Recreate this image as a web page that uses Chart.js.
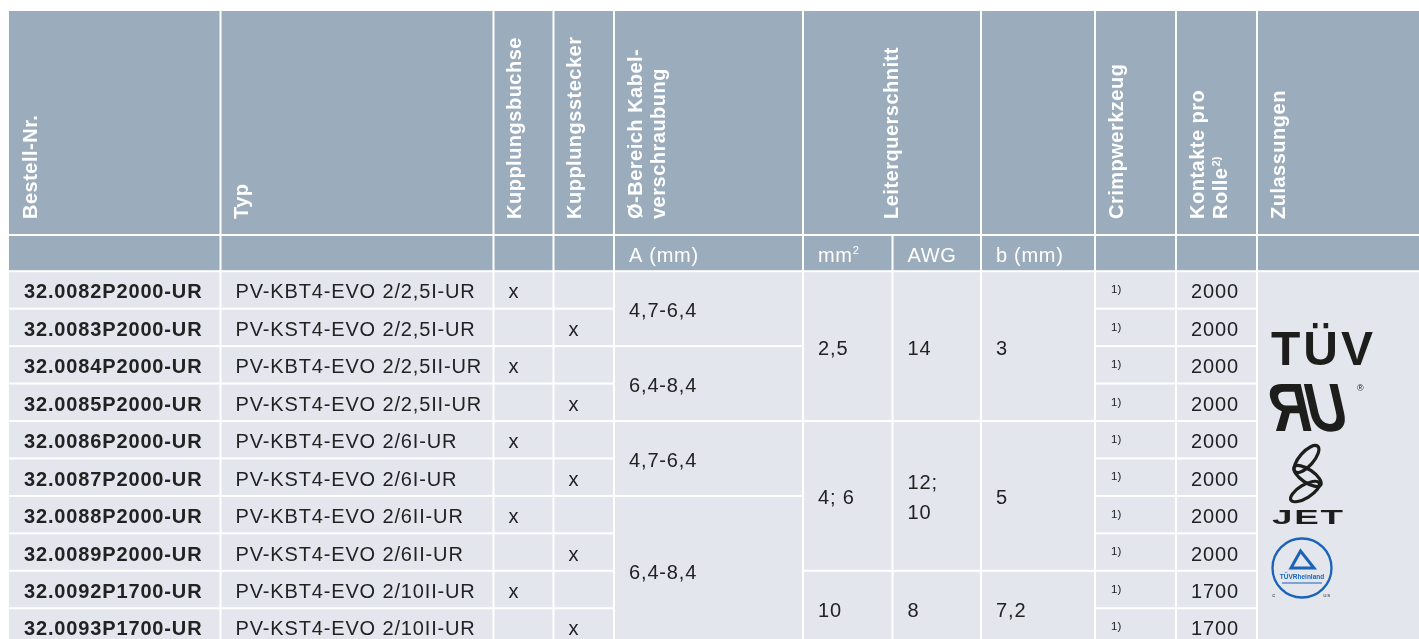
<!DOCTYPE html>
<html><head><meta charset="utf-8">
<script src="https://cdn.jsdelivr.net/npm/chart.js@4"></script>
<style>html,body{margin:0;padding:0;background:#fff;overflow:hidden}canvas{display:block}</style>
</head><body>
<canvas id="c" width="1419" height="639"></canvas>
<script>
// ---------- DATA ----------
const headerLabels = ['Bestell-Nr.', 'Typ', 'Kupplungsbuchse', 'Kupplungsstecker', 'Ø-Bereich Kabel-|verschraubung', 'Leiterquerschnitt', '', 'Crimpwerkzeug', 'Kontakte pro|Rolle', 'Zulassungen'];
const headerNotes = ['', '', '', '', '', '', '', '', '2)', ''];
const subHeaderLabels = ['', '', '', '', 'A (mm)', 'mm', 'AWG', 'b (mm)', '', '', ''];
const subHeaderNotes = ['', '', '', '', '', '2', '', '', '', '', ''];
const orderNumbers = ['32.0082P2000-UR', '32.0083P2000-UR', '32.0084P2000-UR', '32.0085P2000-UR', '32.0086P2000-UR', '32.0087P2000-UR', '32.0088P2000-UR', '32.0089P2000-UR', '32.0092P1700-UR', '32.0093P1700-UR'];
const typeNames = ['PV-KBT4-EVO 2/2,5I-UR', 'PV-KST4-EVO 2/2,5I-UR', 'PV-KBT4-EVO 2/2,5II-UR', 'PV-KST4-EVO 2/2,5II-UR', 'PV-KBT4-EVO 2/6I-UR', 'PV-KST4-EVO 2/6I-UR', 'PV-KBT4-EVO 2/6II-UR', 'PV-KST4-EVO 2/6II-UR', 'PV-KBT4-EVO 2/10II-UR', 'PV-KST4-EVO 2/10II-UR'];
const socketMarks = ['x', '', 'x', '', 'x', '', 'x', '', 'x', ''];
const plugMarks = ['', 'x', '', 'x', '', 'x', '', 'x', '', 'x'];
const cableRanges = ['4,7-6,4', '6,4-8,4', '4,7-6,4', '6,4-8,4'];
const cableRangeRows = [2, 2, 2, 4];
const crossSectionMm2 = ['2,5', '4; 6', '10'];
const crossSectionAwg = ['14', '12;|10', '8'];
const stripLengthB = ['3', '5', '7,2'];
const crossSectionRows = [4, 4, 2];
const crimpToolNotes = ['1)', '1)', '1)', '1)', '1)', '1)', '1)', '1)', '1)', '1)'];
const contactsPerRoll = [2000, 2000, 2000, 2000, 2000, 2000, 2000, 2000, 1700, 1700];
const approvals = ['TÜV', 'ЯU', 'JET', 'TÜVRheinland'];

// ---------- LAYOUT (table units) ----------
const COL_EDGES = [9, 220.5, 493.5, 553.5, 614, 803, 892.5, 981, 1095, 1176, 1257, 1421];
const HEAD_COLS = [0, 1, 2, 3, 4, 5, 7, 8, 9, 10, 11]; // header merges mm2 + AWG
const HEAD_TOP = 11, HEAD_BOT = 235, SUB_BOT = 271.2, ROW_H = 37.45;
const HEAD_BG = '#9badbd', CELL_BG = '#e3e6ed', INK = '#222222';
const FONT = '"Liberation Sans", Arial, Helvetica, sans-serif';

const tablePlugin = {
  id: 'table',
  afterDraw(chart) {
    const ctx = chart.ctx;
    const xs = chart.scales.x, ys = chart.scales.y;
    const X = v => xs.getPixelForValue(v), Y = v => ys.getPixelForValue(v);
    const rowEdge = i => SUB_BOT + i * ROW_H;
    const N = orderNumbers.length;

    const rect = (xa, xb, ya, yb, col, outerLeft, outerTop) => {
      ctx.fillStyle = col;
      const x0 = X(xa) + (outerLeft ? 0 : 1), x1 = X(xb) - 1;
      const y0 = Y(ya) + (outerTop ? 0 : 1), y1 = Y(yb) - 1;
      ctx.fillRect(x0, y0, x1 - x0, y1 - y0);
    };
    const setFont = (w, s, ls) => { ctx.font = `${w} ${s}px ${FONT}`; ctx.letterSpacing = (ls || 0) + 'px'; };

    // ---- header cells ----
    for (let h = 0; h < HEAD_COLS.length - 1; h++) {
      rect(COL_EDGES[HEAD_COLS[h]], COL_EDGES[HEAD_COLS[h + 1]], HEAD_TOP, HEAD_BOT, HEAD_BG, h === 0, true);
    }
    // ---- sub header cells ----
    for (let c = 0; c < COL_EDGES.length - 1; c++) {
      rect(COL_EDGES[c], COL_EDGES[c + 1], HEAD_BOT, SUB_BOT, HEAD_BG, c === 0, false);
    }
    // ---- header labels (rotated) ----
    ctx.fillStyle = '#ffffff';
    ctx.textAlign = 'left';
    ctx.textBaseline = 'alphabetic';
    const CAP = 14.2, LH = 23.5;
    for (let h = 0; h < headerLabels.length; h++) {
      if (!headerLabels[h]) continue;
      const lines = headerLabels[h].split('|');
      const left = X(COL_EDGES[HEAD_COLS[h]]), right = X(COL_EDGES[HEAD_COLS[h + 1]]);
      let base = left + 13.5 + CAP;
      if (h === 5) base = (left + right) / 2 + 5.5;
      ctx.save();
      ctx.translate(base, Y(219));
      ctx.rotate(-Math.PI / 2);
      setFont('bold', 20, 0.5);
      lines.forEach((ln, i) => ctx.fillText(ln, 0, i * LH));
      if (headerNotes[h]) {
        const w = ctx.measureText(lines[lines.length - 1]).width;
        setFont('bold', 11, 0.2);
        ctx.fillText(headerNotes[h], w + 1, (lines.length - 1) * LH - 7);
      }
      ctx.restore();
    }
    // ---- sub header labels ----
    const subCenter = (Y(HEAD_BOT) + Y(SUB_BOT)) / 2;
    for (let c = 0; c < subHeaderLabels.length; c++) {
      if (!subHeaderLabels[c]) continue;
      setFont('normal', 20, 0.7);
      ctx.fillStyle = '#ffffff';
      const x0 = X(COL_EDGES[c]) + 15;
      ctx.fillText(subHeaderLabels[c], x0, subCenter + 8.5);
      if (subHeaderNotes[c]) {
        const w = ctx.measureText(subHeaderLabels[c]).width;
        setFont('normal', 11, 0);
        ctx.fillText(subHeaderNotes[c], x0 + w, subCenter + 1);
      }
    }

    // ---- data cells ----
    const textIn = (c, r0, r1, txt, weight) => {
      const cy = (Y(rowEdge(r0)) + Y(rowEdge(r1))) / 2;
      const lines = String(txt).split('|');
      setFont(weight || 'normal', 20, 0.85);
      ctx.fillStyle = INK;
      const off = (lines.length - 1) * 15;
      lines.forEach((ln, i) => ctx.fillText(ln, X(COL_EDGES[c]) + 15, cy + 8.5 - off + i * 30));
    };
    const cellSpan = (c, r0, r1) => rect(COL_EDGES[c], COL_EDGES[c + 1], rowEdge(r0), rowEdge(r1), CELL_BG, c === 0, false);

    for (let r = 0; r < N; r++) {
      [0, 1, 2, 3, 8, 9].forEach(c => cellSpan(c, r, r + 1));
      textIn(0, r, r + 1, orderNumbers[r], 'bold');
      textIn(1, r, r + 1, typeNames[r]);
      if (socketMarks[r]) textIn(2, r, r + 1, socketMarks[r]);
      if (plugMarks[r]) textIn(3, r, r + 1, plugMarks[r]);
      textIn(9, r, r + 1, contactsPerRoll[r]);
      // crimp tool note (small, top)
      setFont('normal', 11.5, 0.2);
      ctx.fillStyle = INK;
      ctx.fillText(crimpToolNotes[r], X(COL_EDGES[8]) + 16, Y(rowEdge(r)) + 22);
    }
    let r0 = 0;
    cableRanges.forEach((t, i) => {
      const r1 = r0 + cableRangeRows[i];
      cellSpan(4, r0, r1); textIn(4, r0, r1, t); r0 = r1;
    });
    r0 = 0;
    crossSectionRows.forEach((n, i) => {
      const r1 = r0 + n;
      cellSpan(5, r0, r1); textIn(5, r0, r1, crossSectionMm2[i]);
      cellSpan(6, r0, r1); textIn(6, r0, r1, crossSectionAwg[i]);
      cellSpan(7, r0, r1); textIn(7, r0, r1, stripLengthB[i]);
      r0 = r1;
    });
    // approvals column (one merged cell)
    cellSpan(10, 0, N);

    // ---- approval marks ----
    const lx = X(COL_EDGES[10]) + 15;
    const dark = '#1d1d1b';
    // TÜV
    ctx.fillStyle = dark;
    setFont('bold', 48, 3);
    ctx.fillText(approvals[0], lx - 1, Y(365));
    // UL
    ctx.save();
    ctx.translate(lx + 3, Y(431));
    ctx.transform(1, 0, 0.28, 1.22, 0, 0);
    setFont('bold', 56, -4);
    ctx.fillText(approvals[1], 0, 0);
    ctx.restore();
    setFont('normal', 9, 0);
    ctx.fillText('®', lx + 85, Y(391));
    // JET loops
    ctx.strokeStyle = dark;
    ctx.lineWidth = 3.2;
    [[1306.5, 459, 17, 7, -0.85], [1307.5, 476, 16, 6.5, 0.6], [1305, 491.5, 16.5, 6.5, -0.55]].forEach(e => {
      ctx.beginPath();
      ctx.ellipse(X(e[0]), Y(e[1]), e[2], e[3], e[4], 0, Math.PI * 2);
      ctx.stroke();
    });
    ctx.save();
    ctx.translate(lx, Y(523.5));
    ctx.scale(1.75, 1);
    setFont('bold', 21, 1);
    ctx.fillText(approvals[2], 0, 0);
    ctx.restore();
    // TÜV Rheinland
    const blue = '#1a63b8';
    const cx = X(1302), cy = Y(568);
    ctx.strokeStyle = blue;
    ctx.lineWidth = 2.3;
    ctx.beginPath(); ctx.arc(cx, cy, 29.5, 0, Math.PI * 2); ctx.stroke();
    ctx.lineWidth = 3;
    ctx.beginPath();
    ctx.moveTo(cx - 1.5, cy - 17); ctx.lineTo(cx - 11, cy); ctx.lineTo(cx + 12, cy); ctx.closePath(); ctx.stroke();
    ctx.fillStyle = blue;
    setFont('bold', 6.5, 0);
    ctx.textAlign = 'center';
    ctx.fillText(approvals[3], cx, cy + 10.5);
    ctx.fillRect(cx - 20, cy + 14.5, 40, 1);
    ctx.fillStyle = '#444';
    setFont('normal', 6, 0.5);
    ctx.fillText('c', cx - 28, cy + 29);
    ctx.fillText('us', cx + 25, cy + 29);
    ctx.textAlign = 'left';
    ctx.letterSpacing = '0px';
  }
};

new Chart(document.getElementById('c'), {
  type: 'scatter',
  data: { datasets: [] },
  options: {
    responsive: false,
    animation: false,
    devicePixelRatio: 1,
    layout: { padding: 0 },
    plugins: { legend: { display: false }, tooltip: { enabled: false } },
    scales: {
      x: { type: 'linear', min: 0, max: 1419, display: false },
      y: { type: 'linear', min: 0, max: 639, reverse: true, display: false }
    }
  },
  plugins: [tablePlugin]
});
</script>
</body></html>
